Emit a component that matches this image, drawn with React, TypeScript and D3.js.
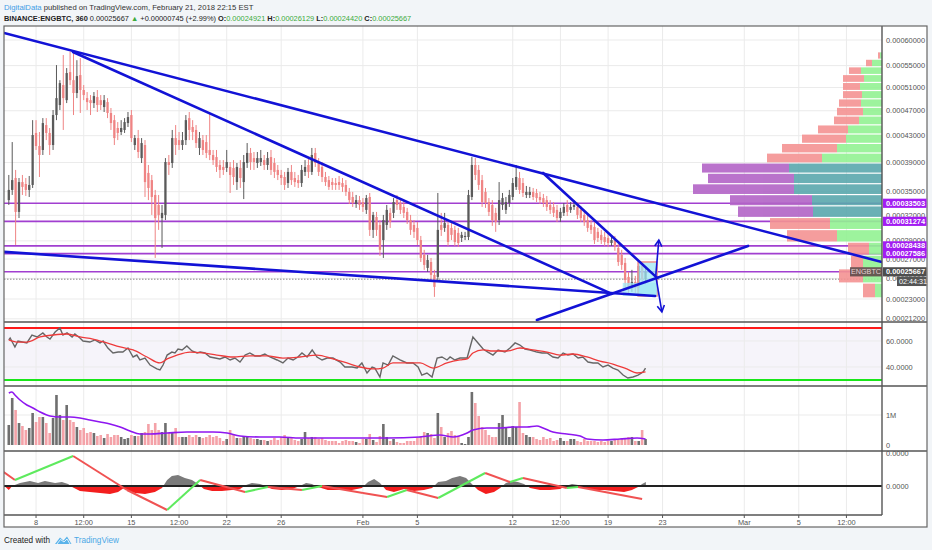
import * as d3 from 'd3';

// 6h candles, BINANCE:ENGBTC, prices in satoshi (1e-8 BTC)
const T0 = Date.UTC(2018, 0, 6);
const STEP = 6 * 3600 * 1000;
const day = (m: number, d: number, h = 0) => Date.UTC(2018, m, d, h);

const OPEN = [
  33910, 35230, 36830, 32420, 36280, 36020, 35230, 35890, 43420, 41420,
  40830, 44670, 43420, 41570, 46290, 47960, 51430, 48790, 53790, 52310,
  50020, 53240, 50550, 49140, 48790, 48290, 49320, 48790, 47620, 48460,
  46630, 45460, 44200, 43570, 43890, 44990, 46290, 41570, 42630, 39640,
  41570, 37530, 36550, 34570, 33290, 31670, 32050, 39070, 38930, 42630,
  42320, 41570, 42320, 45790, 44360, 43890, 41130, 42320, 42020, 40830,
  40090, 39790, 38650, 38370, 38230, 38370, 38230, 36280, 38230, 36280,
  38930, 40390, 39640, 38930, 39070, 39350, 38650, 39790, 38930, 37950,
  37250, 36970, 36150, 37670, 36830, 36550, 36150, 37670, 38650, 37670,
  40390, 39070, 38370, 36970, 36550, 36280, 36150, 36280, 36150, 35890,
  34970, 34310, 33410, 33910, 33660, 32670, 34310, 30260, 31800, 30840,
  29090, 30840, 32300, 32300, 33910, 33540, 33040, 32420, 31430, 30840,
  30490, 29090, 27450, 26070, 26690, 25350, 25150, 30840, 30490, 30840,
  30490, 30260, 29910, 29330, 29440, 29440, 34310, 38650, 37950, 36550,
  34970, 33660, 33290, 32300, 31430, 33290, 32670, 33540, 34310, 35630,
  36830, 36150, 34570, 34570, 34970, 34830, 34310, 34170, 33910, 33290,
  33040, 32670, 31670, 32300, 33290, 32670, 33040, 33040, 32670, 32050,
  31430, 30840, 30610, 30030, 29680, 29440, 29330, 28760, 29090, 28210,
  27450, 26590, 25150, 24160, 24650, 24070, 26280, 24921,
];
const HIGH = [
  37250, 42020, 37950, 36830, 37250, 36830, 37110, 45460, 45460, 43570,
  45790, 45790, 44200, 47120, 55100, 52310, 57020, 54540, 57620, 57620,
  56030, 56420, 51430, 50190, 49670, 50190, 50550, 49670, 49670, 49140,
  47460, 46290, 45150, 45460, 45790, 46790, 47120, 43100, 43890, 42630,
  42320, 38650, 37250, 35230, 34570, 33290, 39640, 40090, 43890, 44670,
  43570, 43570, 46290, 46790, 45460, 44670, 43570, 43100, 43100, 46630,
  40830, 40830, 39350, 39350, 40830, 39070, 39350, 38930, 39350, 40090,
  41870, 41130, 40530, 40530, 40830, 40090, 40530, 40830, 39640, 38650,
  37950, 37670, 38230, 38650, 37670, 37250, 38650, 39350, 39640, 41130,
  41130, 39640, 39070, 37670, 37110, 36830, 36830, 37110, 36830, 36550,
  35490, 34970, 34570, 34440, 34170, 34570, 34830, 32420, 32420, 31430,
  32050, 33290, 32920, 34170, 34570, 34170, 33910, 32920, 32050, 31430,
  31190, 29560, 28000, 27450, 27120, 25870, 34830, 32300, 32300, 31430,
  31080, 30730, 30490, 30030, 30030, 35230, 39790, 39640, 38650, 37250,
  35490, 34170, 33910, 32920, 36280, 34830, 34310, 35230, 36830, 38650,
  37670, 36830, 35760, 35630, 35490, 35360, 34970, 34700, 34440, 33910,
  33660, 33290, 32920, 33540, 33910, 33660, 33910, 33660, 33170, 32670,
  32050, 31430, 31190, 30490, 30260, 30030, 29910, 29560, 29560, 28650,
  28000, 27120, 25660, 25870, 25250, 26690, 26490, 26129,
];
const LOW = [
  33290, 34570, 28540, 31670, 34570, 34440, 34310, 35490, 40830, 36970,
  40090, 42320, 40090, 40830, 45460, 47120, 43890, 48290, 51430, 46290,
  49140, 46630, 48790, 47120, 46290, 47460, 46790, 47120, 46790, 45790,
  43890, 41570, 42320, 43100, 43420, 44360, 42020, 40830, 39640, 38930,
  34310, 33910, 32050, 27120, 30260, 28210, 31430, 37250, 38230, 40090,
  40830, 40830, 41570, 42320, 42320, 41130, 40090, 40090, 39640, 39350,
  38650, 37670, 36830, 37250, 37670, 34830, 35890, 35230, 35490, 34040,
  38230, 37950, 37950, 38230, 38510, 37950, 37950, 37250, 36830, 36550,
  35890, 35230, 35490, 35890, 35630, 35490, 35630, 37110, 36830, 37250,
  38370, 37110, 36280, 35760, 35230, 35230, 35230, 35230, 34970, 34440,
  33410, 33040, 32920, 32670, 32420, 32170, 29560, 29330, 29560, 27340,
  27120, 30260, 30490, 31670, 32670, 32170, 31670, 30960, 29680, 29330,
  28540, 26690, 25870, 25660, 24840, 23200, 24650, 29560, 30030, 28430,
  29090, 28430, 28320, 28870, 29090, 29090, 33910, 36550, 35230, 33040,
  32920, 31920, 30730, 30030, 30840, 32670, 32170, 33040, 33910, 35230,
  34700, 34310, 34170, 34170, 33910, 33660, 33410, 33040, 32540, 32170,
  31800, 31190, 31190, 31920, 31920, 32300, 32670, 31550, 31190, 30730,
  30030, 29790, 28650, 28870, 28650, 28430, 28320, 28430, 27890, 26280,
  25870, 24070, 23490, 23680, 23580, 23680, 24550, 24420,
];
const CLOSE = [
  35230, 36550, 32420, 36280, 35630, 35230, 35890, 43100, 41420, 40090,
  44990, 43420, 41570, 46290, 49140, 51780, 49140, 53610, 52310, 50020,
  53050, 50550, 49670, 48460, 48290, 49490, 47960, 47960, 48790, 46630,
  44990, 42630, 43420, 44200, 45150, 45960, 42630, 42630, 40530, 41870,
  36280, 35490, 34310, 31670, 32050, 32300, 39070, 38650, 42630, 41570,
  41570, 42320, 45460, 43890, 43570, 41870, 42630, 40830, 40390, 40090,
  39350, 38370, 37950, 37950, 39070, 37250, 36970, 38370, 36830, 39070,
  40390, 39070, 39070, 39640, 39640, 38650, 39640, 37950, 37670, 37250,
  36830, 35890, 37670, 36550, 36280, 36150, 37950, 38370, 37670, 40090,
  38930, 37670, 36970, 36280, 35630, 35890, 35890, 35890, 35630, 34970,
  33910, 33540, 33910, 33290, 33040, 34170, 30260, 32050, 30260, 28000,
  31430, 32670, 31190, 33660, 33290, 32670, 32300, 31430, 30260, 30030,
  29090, 27120, 26380, 26900, 25350, 24160, 30260, 30260, 31080, 28870,
  29680, 28870, 28760, 29680, 29560, 34570, 38650, 37250, 35890, 33660,
  33540, 32420, 31430, 31190, 33910, 34170, 33660, 34570, 36150, 36970,
  35230, 34830, 34970, 34970, 34310, 34170, 33910, 33540, 33040, 32670,
  32300, 31670, 32420, 33040, 32420, 33040, 33290, 32050, 31670, 31190,
  30490, 30260, 29090, 29330, 29090, 28870, 28760, 29090, 28320, 26690,
  26380, 24840, 24160, 24650, 24070, 26280, 24921, 25667,
];
// volume per candle, thousands of ENG
const VOLUME_K = [
  667, 1567, 1167, 733, 633, 500, 567, 1067, 767, 933,
  933, 733, 400, 900, 1667, 1000, 833, 1333, 833, 767,
  600, 500, 567, 400, 433, 400, 300, 333, 233, 367,
  267, 333, 333, 267, 200, 233, 333, 300, 300, 400,
  433, 700, 500, 733, 500, 433, 733, 400, 400, 567,
  267, 267, 267, 333, 267, 333, 267, 233, 267, 333,
  267, 300, 233, 133, 200, 500, 333, 233, 233, 267,
  267, 233, 200, 200, 167, 167, 133, 167, 233, 167,
  267, 333, 267, 233, 167, 133, 200, 433, 233, 267,
  267, 200, 233, 167, 133, 133, 133, 67, 133, 167,
  133, 133, 100, 67, 200, 200, 367, 167, 100, 300,
  700, 267, 133, 200, 100, 67, 67, 133, 133, 133,
  233, 300, 433, 400, 367, 233, 1067, 600, 267, 400,
  467, 333, 300, 67, 33, 267, 1767, 1400, 967, 600,
  500, 333, 267, 267, 733, 1000, 600, 267, 633, 600,
  1433, 400, 333, 267, 267, 200, 167, 267, 200, 233,
  133, 167, 233, 133, 133, 200, 200, 133, 100, 200,
  133, 133, 133, 100, 133, 100, 133, 133, 167, 200,
  233, 233, 267, 267, 133, 133, 500, 200,
];
// [candle index, value]
const VOLUME_MA = [
  [0, 1733], [0.9, 1767], [1.8, 1667], [3.3, 1500], [5.3, 1333], [7.1, 1233], [9.2, 1100], [12.1, 967],
  [15, 933], [18, 933], [20.9, 900], [23.8, 833], [26.8, 767], [29.7, 700], [32.7, 600], [35.6, 467],
  [38.5, 367], [41.5, 367], [46.5, 400], [52.3, 433], [56.2, 433], [60, 433], [64.1, 400], [67.9, 300],
  [73.8, 267], [79.6, 267], [85.5, 233], [91.4, 233], [101.1, 233], [111.1, 233], [120.8, 267], [126.6, 333],
  [130.5, 267], [134.6, 400], [136.3, 500], [140.4, 567], [144.3, 567], [148.1, 600], [152.2, 600], [155.1, 633],
  [156.9, 567], [159.8, 433], [163.9, 367], [167.8, 300], [169.8, 200], [174.5, 167], [179.5, 200], [184.5, 233],
  [187, 200],
];
const RSI = [
  [0, 60.8], [0.4, 62.3], [1.8, 55.4], [2.7, 60], [5.3, 58.5], [6.8, 64.6], [8.3, 63.1], [10, 66.2],
  [11.2, 63.1], [12.1, 61.5], [13.6, 66.9], [15, 70], [15.9, 64.6], [17.1, 66.2], [18.6, 63.1], [19.4, 65.4],
  [20.9, 62.3], [21.8, 60], [23.8, 59.2], [25.3, 60.8], [26.8, 58.5], [27.7, 60], [29.1, 54.6], [30.6, 50.8],
  [32.1, 51.5], [33.5, 51.5], [35, 54.6], [36.5, 47.7], [37.6, 49.2], [38.5, 45.4], [40, 46.9], [41.5, 41.5],
  [43.5, 38.5], [44.4, 37.7], [45.3, 41.5], [46.5, 49.2], [47.9, 51.5], [48.8, 50.8], [49.7, 53.8], [50.9, 53.1],
  [52.3, 56.2], [53.8, 52.3], [55.3, 50.8], [56.2, 51.5], [57.6, 50.8], [59.1, 47.7], [60.6, 46.9], [62, 46.2],
  [63.5, 47.7], [65, 45.4], [66.4, 46.9], [67.9, 43.8], [69.4, 49.2], [70.8, 50.8], [72.3, 48.5], [73.8, 48.5],
  [75.2, 50], [76.7, 47.7], [78.8, 45.4], [80.5, 43.1], [82, 46.9], [83.5, 45.4], [84.9, 47.7], [86.1, 50.8],
  [87.6, 47.7], [89.1, 53.1], [90.5, 47.7], [92, 45.4], [93.5, 46.9], [95.2, 46.9], [97.3, 43.8], [98.7, 40],
  [100.8, 40], [102.3, 39.2], [103.7, 43.1], [105.2, 35.4], [106.7, 40], [107.5, 39.2], [109, 32.3], [109.9, 43.1],
  [111.4, 41.5], [112.8, 48.5], [114.9, 45.4], [116.9, 43.1], [118.7, 43.1], [120.2, 40], [121.3, 33.8], [122.8, 35.4],
  [124.3, 32.3], [125.8, 46.9], [127.2, 47.7], [128.7, 45.4], [129.6, 47.7], [131, 45.4], [132.5, 46.9], [134.6, 46.9],
  [136.3, 63.1], [137.8, 58.5], [139.3, 53.8], [140.7, 51.5], [142.2, 49.2], [143.7, 53.1], [145.7, 51.5], [147.2, 54.6],
  [148.7, 58.5], [150.1, 56.9], [151.6, 53.8], [153.1, 53.1], [155.1, 51.5], [156.6, 50.8], [158.1, 50.8], [159.8, 47.7],
  [161.3, 46.9], [162.8, 50.8], [164.2, 49.2], [165.7, 50], [167.2, 46.9], [168.6, 47.7], [170.1, 43.8], [171.6, 43.1],
  [173, 43.1], [174.5, 40], [176, 41.5], [177.4, 39.2], [178.9, 37.7], [180.4, 33.8], [181.8, 31.5], [183.3, 32.3],
  [184.8, 33.8], [186.3, 36.2], [187, 39.2],
];
const RSI_MA = [
  [0, 60.8], [2.4, 59.2], [5.3, 59.2], [9.2, 63.1], [13, 64.6], [17.1, 65.4], [20.9, 63.1], [24.7, 61.5],
  [28.8, 58.5], [32.7, 55.4], [36.5, 53.1], [40.6, 47.7], [44.4, 43.1], [46.5, 46.2], [49.4, 49.2], [53.2, 51.5],
  [57, 50.8], [61.1, 49.2], [65.8, 47.7], [70.8, 48.5], [75.8, 48.5], [80.5, 46.9], [85.5, 47.7], [90.5, 49.2],
  [95.2, 46.2], [99.3, 43.1], [103.1, 40], [107, 38.5], [109.9, 39.2], [112.8, 43.1], [116.9, 43.1], [120.8, 43.1],
  [124.6, 39.2], [128.7, 43.1], [132.5, 45.4], [134.6, 46.2], [136.3, 50.8], [139.3, 53.1], [142.2, 52.3], [146.3, 52.3],
  [150.1, 54.6], [153.9, 53.1], [158.1, 51.5], [161.9, 49.2], [165.7, 50], [169.8, 47.7], [173.6, 44.6], [177.4, 42.3],
  [181.5, 38.5], [184.5, 35.4], [187, 36.2],
];
// oscillator, 1e-7 BTC
const OSC = [
  [-1.3, 0], [0, -4], [1, 0], [3.3, 3], [6.2, 5], [8.6, 3], [10.6, 5], [13.6, 3], [15.6, 4], [17.4, 2],
  [18.6, -1], [20.9, -5], [23.8, -6], [26.8, -7], [29.7, -8], [32.1, -6], [33.8, -2], [35, -5], [37.1, -7], [40, -8],
  [42.9, -6], [45, -2], [46.5, 6], [47.9, 10], [49.7, 11], [51.7, 8], [53.8, 6], [55.6, 2], [57.3, -3], [59.7, -5],
  [62.6, -5], [65.5, -4], [67.9, -3], [69.7, 1], [71.4, 3], [73.8, 2], [75.5, 0], [77.3, -3], [80.2, -4], [83.2, -3],
  [85.5, 0], [87.3, 3], [89, 2], [90.8, -1], [93.7, -4], [97.3, -4], [100.8, -4], [103.7, -2], [105.5, 4], [107.3, 7],
  [109, 3], [110.8, -4], [113.1, -6], [116.1, -3], [119, -5], [121.9, -4], [124.3, -2], [126.1, 4], [128.4, 5], [130.2, 8],
  [132.5, 10], [134.3, 8], [136, 2], [137.8, -4], [140.1, -8], [142.5, -6], [144.3, -2], [146, 3], [147.8, 5], [149.5, 4],
  [151.3, 2], [153.1, -2], [156, -4], [158.9, -4], [161.9, -3], [163.6, 0], [165.4, 2], [167.2, 1], [168.9, -2], [171.9, -4],
  [174.8, -4], [177.7, -5], [180.7, -6], [183, -4], [184.8, -1], [186, 2], [187.1, 4],
];
const ZIGZAG = [
  [-1.5, 14], [1.8, 6], [18.9, 30], [34.7, -4], [46.5, -24], [56.2, 6], [69.4, -6], [76.1, -1],
  [86.1, -4], [92, 0], [104, -7], [111.1, -11], [116.9, -4], [126.1, -12], [139.9, 13], [147.2, 4],
  [151, 8], [163.9, -2], [167.2, -1], [186, -13],
];

// volume profile, 24 price rows from the bottom
const PROFILE_START = 23100;
const PROFILE_STEP = 1440;
const VA_LOW = 31740, VA_HIGH = 38940;
const PROFILE_DOWN = [120, 240, 120, 210, 500, 600, 750, 820, 1010, 860, 870, 550, 550, 440, 300, 250, 260, 220, 190, 170, 210, 120, 60, 20];
const PROFILE_UP = [70, 190, 190, 130, 450, 520, 690, 700, 880, 880, 930, 600, 450, 360, 340, 230, 190, 210, 200, 220, 180, 210, 100, 20];

// drawings, anchored at [candle index, price]
const TREND_LINES = [
  [[-1.4, 61430], [256.4, 26690]],
  [[18.85, 57620], [177.1, 23490]],
  [[-1.4, 27780], [189.8, 23290]],
  [[155.1, 21100], [217.1, 28430]],
  [[156.9, 37530], [190.4, 25050]],
];
const ARROWS = [
  [[190, 25250], [190.9, 29090]],
  [[190, 25250], [191.8, 21820]],
];
const BOXES = [
  [[184.8, 26690], [190.4, 23290]],
  [[180.3, 24550], [190.4, 23290]],
];
const LEVELS = [33503, 31274, 28438, 27586, 25667];
const LAST_PRICE = 25667;
const PREV_CLOSE = 24921;

const PRICE_TICKS = [60000, 55000, 51000, 47000, 43000, 39000, 35000, 32000, 29000, 27000, 25000, 23000, 21200];
const RSI_TICKS = [60, 40];
const VOL_TICKS = [0, 1000];
const OSC_TICKS = [0, 33];
const TIME_TICKS: [number, string][] = [
  [day(0, 8), '8'], [day(0, 11, 12), '12:00'], [day(0, 15), '15'], [day(0, 18, 12), '12:00'],
  [day(0, 22), '22'], [day(0, 26), '26'], [day(1, 1), 'Feb'], [day(1, 5), '5'], [day(1, 12), '12'],
  [day(1, 15, 12), '12:00'], [day(1, 19), '19'], [day(1, 23), '23'], [day(2, 1), 'Mar'], [day(2, 5), '5'],
  [day(2, 8, 12), '12:00'],
];

// layout
const W = 932, H = 550;
const FL = 4, FR = 927, FT = 26, FB = 527;
const AX = 882;
const MAIN_B = 322, RSI_B = 386, VOL_B = 451, OSC_B = 515;
const FONT = 'Liberation Sans, Arial, sans-serif';

const UP = '#5a5a5a', DOWN = '#ef8484';
const BLUE = '#1212d6';
const PURPLE = '#a13fd0';

const fmt8 = (v: number) => (v / 1e8).toFixed(8);

export default function App() {
  const x = d3.scaleUtc().domain([T0, T0 + 100 * STEP]).range([8.8, 8.8 + 100 * 3.405]);
  const xi = (i: number) => x(T0 + i * STEP);
  const y = d3.scalePow().exponent(0.2).domain([23000, 60000]).range([299, 40]);
  const yRsi = d3.scaleLinear().domain([30, 70]).range([380, 328]);
  const yVol = d3.scaleLinear().domain([0, 1000]).range([445, 415]);
  const yOsc = d3.scaleLinear().domain([0, 10]).range([486, 476]);
  const wProf = d3.scaleLinear().domain([0, 1000]).range([0, 100]);

  const rsiLine = d3.line<number[]>().x((d) => xi(d[0])).y((d) => yRsi(d[1]));
  const rsiMaLine = d3.line<number[]>().x((d) => xi(d[0])).y((d) => yRsi(d[1])).curve(d3.curveMonotoneX);
  const volMaLine = d3.line<number[]>().x((d) => xi(d[0])).y((d) => yVol(d[1])).curve(d3.curveMonotoneX);
  const oscArea = d3.area<number[]>().x((d) => xi(d[0])).y0(yOsc(0)).y1((d) => yOsc(d[1]));

  const axisText = { fontSize: 7.4, fill: '#555', fontFamily: FONT } as const;

  return (
    <div style={{ position: 'absolute', left: 0, top: 0 }}>
      <svg width={W} height={H} style={{ display: 'block' }}>
        <defs>
          <clipPath id="cMain"><rect x={FL} y={FT} width={AX - FL} height={MAIN_B - FT} /></clipPath>
          <clipPath id="cRsi"><rect x={FL} y={MAIN_B} width={AX - FL} height={RSI_B - MAIN_B} /></clipPath>
          <clipPath id="cVol"><rect x={FL} y={RSI_B} width={AX - FL} height={VOL_B - RSI_B} /></clipPath>
          <clipPath id="cOsc"><rect x={FL} y={VOL_B} width={AX - FL} height={OSC_B - VOL_B} /></clipPath>
          <clipPath id="cOscPos"><rect x={FL} y={VOL_B} width={AX - FL} height={yOsc(0) - VOL_B} /></clipPath>
          <clipPath id="cOscNeg"><rect x={FL} y={yOsc(0)} width={AX - FL} height={OSC_B - yOsc(0)} /></clipPath>
          <marker id="arrowHead" viewBox="0 0 10 10" refX="8" refY="5" markerWidth="9" markerHeight="9"
            markerUnits="userSpaceOnUse" orient="auto">
            <path d="M1,1 L8,5 L1,9" fill="none" stroke={BLUE} strokeWidth="1.8" />
          </marker>
        </defs>

        <rect width={W} height={H} fill="#f2f5f8" />

        {/* header */}
        <text x={4} y={10} fontFamily={FONT} fontSize={7.7}>
          <tspan fill="#3f9de6">DigitalData</tspan>
          <tspan fill="#333"> published on TradingView.com, February 21, 2018 22:15 EST</tspan>
        </text>
        <text x={4} y={21} fontFamily={FONT} fontSize={7.4} fontWeight={600}>
          <tspan fill="#222">BINANCE:ENGBTC, 360 </tspan>
          <tspan fill="#222" fontWeight={400}>{fmt8(LAST_PRICE)} </tspan>
          <tspan fill="#3dab3d">▲ </tspan>
          <tspan fill="#222" fontWeight={400}>+0.00000745 (+2.99%) </tspan>
          <tspan fill="#222">O:</tspan><tspan fill="#3dab3d" fontWeight={400}>{fmt8(OPEN[OPEN.length - 1])} </tspan>
          <tspan fill="#222">H:</tspan><tspan fill="#3dab3d" fontWeight={400}>{fmt8(HIGH[HIGH.length - 1])} </tspan>
          <tspan fill="#222">L:</tspan><tspan fill="#3dab3d" fontWeight={400}>{fmt8(LOW[LOW.length - 1])} </tspan>
          <tspan fill="#222">C:</tspan><tspan fill="#3dab3d" fontWeight={400}>{fmt8(CLOSE[CLOSE.length - 1])}</tspan>
        </text>

        {/* frame */}
        <rect x={FL} y={FT} width={FR - FL} height={FB - FT} fill="#fff" />
        <rect x={FL} y={yRsi(70)} width={AX - FL} height={yRsi(30) - yRsi(70)} fill="#f6f4fa" />

        {/* grid */}
        <g stroke="#ebebeb" strokeWidth={1}>
          {TIME_TICKS.map(([t]) => (
            <line key={t} x1={x(t)} x2={x(t)} y1={FT} y2={OSC_B} />
          ))}
          {PRICE_TICKS.map((p) => (
            <line key={p} x1={FL} x2={AX} y1={y(p)} y2={y(p)} />
          ))}
          {RSI_TICKS.map((v) => <line key={v} x1={FL} x2={AX} y1={yRsi(v)} y2={yRsi(v)} />)}
          <line x1={FL} x2={AX} y1={yVol(1000)} y2={yVol(1000)} />
        </g>

        {/* main pane */}
        <g clipPath="url(#cMain)">
          {LEVELS.map((p) => (
            <line key={p} x1={FL} x2={AX} y1={y(p)} y2={y(p)} stroke={PURPLE} strokeWidth={1.6} />
          ))}
          <line x1={FL} x2={AX} y1={y(PREV_CLOSE)} y2={y(PREV_CLOSE)} stroke="#888" strokeWidth={1} strokeDasharray="1.5,1.5" />
          {CLOSE.map((c, i) => {
            const o = OPEN[i];
            const col = c >= o ? UP : DOWN;
            const cx = xi(i);
            const top = Math.min(y(o), y(c));
            return (
              <g key={i}>
                <line x1={cx} x2={cx} y1={y(HIGH[i])} y2={y(LOW[i])} stroke={col} strokeWidth={1} />
                <rect x={cx - 1.15} width={2.3} y={top} height={Math.max(0.8, Math.abs(y(o) - y(c)))} fill={col} />
              </g>
            );
          })}
          {PROFILE_DOWN.map((dn, k) => {
            const lo = PROFILE_START + k * PROFILE_STEP;
            const hi = lo + PROFILE_STEP;
            const inVA = lo >= VA_LOW && hi <= VA_HIGH;
            const wu = wProf(PROFILE_UP[k]);
            const wd = wProf(dn);
            const y1 = y(hi) + 0.6;
            const h = y(lo) - 0.6 - y1;
            return (
              <g key={k} opacity={0.9}>
                <rect x={AX - wu - wd} y={y1} width={wd} height={h} fill={inVA ? '#b264c6' : '#f59393'} />
                <rect x={AX - wu} y={y1} width={wu} height={h} fill={inVA ? '#5aa8ad' : '#93f293'} />
              </g>
            );
          })}
          {BOXES.map(([a, b], k) => (
            <rect key={k} x={xi(a[0])} y={y(a[1])} width={xi(b[0]) - xi(a[0])} height={y(b[1]) - y(a[1])}
              fill="#9fe7f4" fillOpacity={0.75} stroke={k === 0 ? '#f08c8c' : 'none'} strokeWidth={1.5} />
          ))}
          {TREND_LINES.map(([a, b], k) => (
            <line key={k} x1={xi(a[0])} y1={y(a[1])} x2={xi(b[0])} y2={y(b[1])} stroke={BLUE} strokeWidth={2.6} strokeLinecap="round" />
          ))}
          {ARROWS.map(([a, b], k) => (
            <line key={k} x1={xi(a[0])} y1={y(a[1])} x2={xi(b[0])} y2={y(b[1])} stroke={BLUE} strokeWidth={1.6} markerEnd="url(#arrowHead)" />
          ))}
        </g>

        {/* RSI pane */}
        <g clipPath="url(#cRsi)">
          <line x1={FL} x2={AX} y1={yRsi(70)} y2={yRsi(70)} stroke="#ff1a1a" strokeWidth={2} />
          <line x1={FL} x2={AX} y1={yRsi(30)} y2={yRsi(30)} stroke="#19e619" strokeWidth={2} />
          <path d={rsiLine(RSI) || ''} fill="none" stroke="#666" strokeWidth={1.4} />
          <path d={rsiMaLine(RSI_MA) || ''} fill="none" stroke="#ee3b3b" strokeWidth={1.3} />
        </g>

        {/* volume pane */}
        <g clipPath="url(#cVol)">
          {VOLUME_K.map((v, i) => (
            <rect key={i} x={xi(i) - 1.3} width={2.6} y={yVol(v)} height={yVol(0) - yVol(v)}
              fill={CLOSE[i] >= OPEN[i] ? '#6f6f6f' : '#f4a2a8'} />
          ))}
          <path d={volMaLine(VOLUME_MA) || ''} fill="none" stroke="#8e16f0" strokeWidth={1.6} />
        </g>

        {/* oscillator pane */}
        <g clipPath="url(#cOsc)">
          <path d={oscArea(OSC) || ''} fill="#7a7a7a" clipPath="url(#cOscPos)" />
          <path d={oscArea(OSC) || ''} fill="#f31e1e" clipPath="url(#cOscNeg)" />
          <line x1={FL} x2={AX} y1={yOsc(0)} y2={yOsc(0)} stroke="#222" strokeWidth={1.8} />
          {ZIGZAG.slice(1).map((p, k) => {
            const q = ZIGZAG[k];
            return (
              <line key={k} x1={xi(q[0])} y1={yOsc(q[1])} x2={xi(p[0])} y2={yOsc(p[1])}
                stroke={p[1] >= q[1] ? '#5eea5e' : '#f05252'} strokeWidth={2} />
            );
          })}
        </g>

        {/* pane separators and axis */}
        <g stroke="#555">
          {[MAIN_B, RSI_B, VOL_B].map((v) => (
            <line key={v} x1={FL} x2={FR} y1={v} y2={v} strokeWidth={1.4} />
          ))}
          <line x1={FL} x2={AX} y1={OSC_B} y2={OSC_B} strokeWidth={1.4} />
          <line x1={AX} x2={AX} y1={FT} y2={OSC_B} strokeWidth={1.4} />
          {TIME_TICKS.map(([t]) => (
            <line key={t} x1={x(t)} x2={x(t)} y1={OSC_B} y2={OSC_B + 3} strokeWidth={1} />
          ))}
        </g>
        <rect x={FL} y={FT} width={FR - FL} height={FB - FT} fill="none" stroke="#666" strokeWidth={1.2} />

        {/* axis labels */}
        <g {...axisText} dominantBaseline="central">
          {PRICE_TICKS.map((p) => (
            <text key={p} x={AX + 4} y={y(p)}>{fmt8(p)}</text>
          ))}
          {RSI_TICKS.map((v) => <text key={v} x={AX + 4} y={yRsi(v)}>{v.toFixed(4)}</text>)}
          {VOL_TICKS.map((v) => <text key={v} x={AX + 4} y={yVol(v)}>{v === 0 ? '0' : `${v / 1000}M`}</text>)}
          {OSC_TICKS.map((v) => <text key={v} x={AX + 4} y={yOsc(v)}>{(v * 1e-7).toFixed(4)}</text>)}
        </g>
        <g {...axisText} textAnchor="middle">
          {TIME_TICKS.map(([t, s]) => (
            <text key={t} x={x(t)} y={525}>{s}</text>
          ))}
        </g>

        {/* price labels on axis */}
        {LEVELS.slice(0, 4).map((p) => (
          <g key={p}>
            <rect x={AX + 1} y={y(p) - 4.6} width={FR - AX - 1.5} height={9.2} fill="#a21cf2" />
            <text x={AX + 4} y={y(p)} dominantBaseline="central" fontFamily={FONT} fontSize={7.4} fontWeight={700} fill="#fff">{fmt8(p)}</text>
          </g>
        ))}
        <rect x={AX - 32} y={y(LAST_PRICE) - 4.6} width={32} height={9.2} fill="#5f4a4a" fillOpacity={0.9} />
        <text x={AX - 16} y={y(LAST_PRICE)} dominantBaseline="central" textAnchor="middle" fontFamily={FONT} fontSize={7.2} fill="#e6d2d2">ENGBTC</text>
        <rect x={AX + 1} y={y(LAST_PRICE) - 4.6} width={FR - AX - 1.5} height={9.2} fill="#4e4e4e" />
        <text x={AX + 4} y={y(LAST_PRICE)} dominantBaseline="central" fontFamily={FONT} fontSize={7.4} fontWeight={700} fill="#fff">{fmt8(LAST_PRICE)}</text>
        <rect x={AX + 15} y={y(LAST_PRICE) + 5.2} width={FR - AX - 15.5} height={9} fill="#555" />
        <text x={AX + 17} y={y(LAST_PRICE) + 9.7} dominantBaseline="central" fontFamily={FONT} fontSize={7.2} fill="#fff">02:44:31</text>

        {/* footer */}
        <text x={4} y={543} fontFamily={FONT} fontSize={8.6} fill="#222" textLength={46} lengthAdjust="spacingAndGlyphs">Created with</text>
        <path d="M55,544 L60,537.5 L63.5,540.5 L67,536.5 L71.5,544 Z" fill="#5ab3ea" />
        <path d="M57,544 L60.5,539.5 L64,542 L67,539 L70,544" fill="none" stroke="#fff" strokeWidth={0.8} />
        <text x={74} y={543} fontFamily={FONT} fontSize={8.6} fill="#4aa8e6" textLength={45} lengthAdjust="spacingAndGlyphs">TradingView</text>
      </svg>
    </div>
  );
}
